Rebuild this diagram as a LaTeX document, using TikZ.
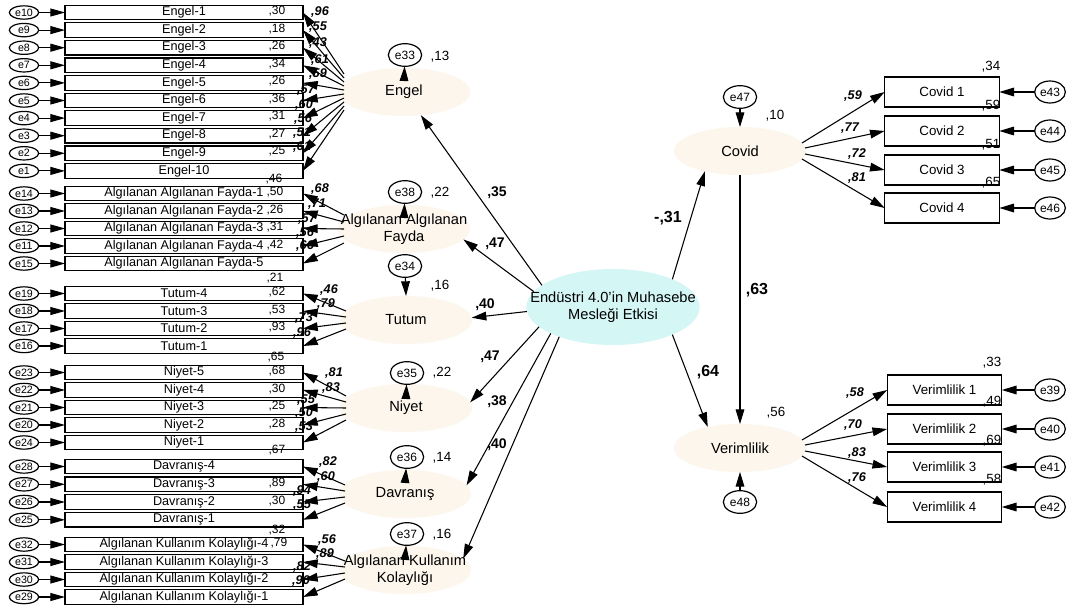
\documentclass[tikz,border=0pt]{standalone}
\usepackage{fontspec}
\setmainfont{Liberation Sans}
\usetikzlibrary{arrows.meta,shapes.geometric,calc}
\definecolor{latfill}{HTML}{FCF6EC}
\definecolor{hubfill}{HTML}{D4F6F4}

\begin{document}
\begin{tikzpicture}[x=0.75pt,y=-0.75pt,
  every node/.style={inner sep=0pt, outer sep=0pt},
  lat/.style={ellipse, fill=latfill, minimum width=99pt, minimum height=36pt},
  hub/.style={ellipse, fill=hubfill, minimum width=130pt, minimum height=57pt},
  lattext/.style={align=center, font=\fontsize{11}{12.5}\selectfont},
  ind/.style={draw, line width=0.9pt, minimum width=178.5pt, minimum height=10.9pt, font=\fontsize{9.5}{10}\selectfont},
  rind/.style={draw, line width=0.9pt, minimum width=86pt, minimum height=22.5pt, font=\fontsize{10}{11}\selectfont},
  errs/.style={ellipse, draw, line width=0.9pt, minimum width=22pt, minimum height=10pt, font=\fontsize{8}{9}\selectfont},
  errl/.style={ellipse, draw, line width=0.9pt, minimum width=25pt, minimum height=17pt, font=\fontsize{9}{10}\selectfont},
  arr/.style={line width=0.8pt, -{Triangle[length=11pt,width=6.5pt]}},
  arrs/.style={line width=0.8pt, -{Triangle[length=11pt,width=6pt]}},
  rsq/.style={font=\fontsize{9}{10}\selectfont},
  rsqb/.style={font=\fontsize{10}{11}\selectfont},
  ld/.style={font=\bfseries\itshape\fontsize{9.5}{10}\selectfont},
  pth/.style={font=\bfseries\fontsize{10.5}{11}\selectfont},
  pthbig/.style={font=\bfseries\fontsize{12}{13}\selectfont},
]
\fill[white] (0,0) rectangle (1067,610);
\useasboundingbox (0,0) rectangle (1067,610);

% ---------- latent variables ----------
\node[lat] (Engel) at (404,92) {};
\node[lattext] at (Engel) {Engel};
\node[lat] (Fayda) at (404,229) {};
\node[lattext] at (Fayda) {Algılanan Algılanan\\Fayda};
\node[lat] (Tutum) at (406,320) {};
\node[lattext] at (Tutum) {Tutum};
\node[lat] (Niyet) at (406,408) {};
\node[lattext] at (Niyet) {Niyet};
\node[lat] (Davranis) at (405,494) {};
\node[lattext] at (Davranis) {Davranış};
\node[lat] (Kolay) at (405,570) {};
\node[lattext] at (Kolay) {Algılanan Kullanım\\Kolaylığı};
\node[hub] (Hub) at (613,307) {};
\node[lattext] at (Hub) {Endüstri 4.0’in Muhasebe\\Mesleği Etkisi};
\node[lat] (Covid) at (740,151) {};
\node[lattext] at (Covid) {Covid};
\node[lat] (Verim) at (740,448) {};
\node[lattext] at (Verim) {Verimlilik};

% ---------- latent disturbances ----------
\node[errl] (e33) at (405,55) {e33};
\node[errl] (e38) at (405,192) {e38};
\node[errl] (e34) at (405,266) {e34};
\node[errl] (e35) at (407,373) {e35};
\node[errl] (e36) at (407,457) {e36};
\node[errl] (e37) at (407,534) {e37};
\node[errl] (e47) at (740,97) {e47};
\node[errl] (e48) at (740,502) {e48};
\draw[arr] ($(Engel.north)+(0,13)$) -- (e33);
\draw[arr] ($(Fayda.north)+(0,13)$) -- (e38);
\draw[arr] (e34) -- (Tutum.north);
\draw[arr] ($(Niyet.north)+(0,13)$) -- (e35);
\draw[arr] ($(Davranis.north)+(0,13)$) -- (e36);
\draw[arr] ($(Kolay.north)+(0,13)$) -- (e37);
\draw[arr] (e47) -- (Covid.north);
\draw[arr] (e48) -- (Verim.south);
\node[rsqb] at (440,57) {,13};
\node[rsqb] at (440,193) {,22};
\node[rsqb] at (440,286) {,16};
\node[rsqb] at (442,373) {,22};
\node[rsqb] at (442,458) {,14};
\node[rsqb] at (442,535) {,16};
\node[rsqb] at (775,116) {,10};
\node[rsqb] at (776,413) {,56};

% ---------- Engel indicators ----------
\foreach \n/\y/\e in {1/12.5/e10,2/30.1/e9,3/47.7/e8,4/65.3/e7,5/82.9/e6,6/100.5/e5,7/118.1/e4,8/135.7/e3,9/153.3/e2,10/170.9/e1}{
  \node[ind] (E\n) at (184,\y) {Engel-\n};
  \node[errs] (eE\n) at (24,\y) {\e};
  \draw[arrs] (eE\n) -- (E\n);
}
\foreach \n/\d in {1/-18,2/-14,3/-10,4/-6,5/-2,6/2,7/6,8/10,9/14,10/18}
  \draw[arr] ($(Engel.west)+(6,\d)$) -- (E\n.east);

% ---------- Fayda indicators ----------
\foreach \n/\y/\e in {1/193.5/e14,2/211/e13,3/228.5/e12,4/246/e11,5/263.5/e15}{
  \node[ind] (F\n) at (184,\y) {Algılanan Algılanan Fayda-\n};
  \node[errs] (eF\n) at (24,\y) {\e};
  \draw[arrs] (eF\n) -- (F\n);
}
\foreach \n/\d in {1/-14,2/-7,3/0,4/7,5/14}
  \draw[arr] ($(Fayda.west)+(6,\d)$) -- (F\n.east);

% ---------- Tutum indicators ----------
\foreach \n/\y/\k/\e in {1/293.5/4/e19,2/311/3/e18,3/328.5/2/e17,4/346/1/e16}{
  \node[ind] (T\n) at (184,\y) {Tutum-\k};
  \node[errs] (eT\n) at (24,\y) {\e};
  \draw[arrs] (eT\n) -- (T\n);
}
\foreach \n/\d in {1/-9,2/-3,3/3,4/9}
  \draw[arr] ($(Tutum.west)+(6,\d)$) -- (T\n.east);

% ---------- Niyet indicators ----------
\foreach \n/\y/\k/\e in {1/372.5/5/e23,2/390/4/e22,3/407.5/3/e21,4/425/2/e20,5/442.5/1/e24}{
  \node[ind] (N\n) at (184,\y) {Niyet-\k};
  \node[errs] (eN\n) at (24,\y) {\e};
  \draw[arrs] (eN\n) -- (N\n);
}
\foreach \n/\d in {1/-12,2/-6,3/0,4/6,5/12}
  \draw[arr] ($(Niyet.west)+(6,\d)$) -- (N\n.east);

% ---------- Davranis indicators ----------
\foreach \n/\y/\k/\e in {1/466.5/4/e28,2/484.3/3/e27,3/502/2/e26,4/519.8/1/e25}{
  \node[ind] (D\n) at (184,\y) {Davranış-\k};
  \node[errs] (eD\n) at (24,\y) {\e};
  \draw[arrs] (eD\n) -- (D\n);
}
\foreach \n/\d in {1/-9,2/-3,3/3,4/9}
  \draw[arr] ($(Davranis.west)+(6,\d)$) -- (D\n.east);

% ---------- Kolaylik indicators ----------
\foreach \n/\y/\k/\e in {1/544.5/4/e32,2/562/3/e31,3/579.5/2/e30,4/597/1/e29}{
  \node[ind] (K\n) at (184,\y) {Algılanan Kullanım Kolaylığı-\k};
  \node[errs] (eK\n) at (24,\y) {\e};
  \draw[arrs] (eK\n) -- (K\n);
}
\foreach \n/\d in {1/-9,2/-3,3/3,4/9}
  \draw[arr] ($(Kolay.west)+(6,\d)$) -- (K\n.east);

% ---------- squared multiple correlations, left ----------
\node[rsq] at (277,11.5) {,30};
\node[rsq] at (277,29) {,18};
\node[rsq] at (277,46.5) {,26};
\node[rsq] at (277,64) {,34};
\node[rsq] at (277,81.5) {,26};
\node[rsq] at (277,99) {,36};
\node[rsq] at (277,116.5) {,31};
\node[rsq] at (277,134) {,27};
\node[rsq] at (277,151.5) {,25};
\node[rsq] at (274,179) {,46};
\node[rsq] at (275,192.5) {,50};
\node[rsq] at (275,210) {,26};
\node[rsq] at (275,227.5) {,31};
\node[rsq] at (275,245) {,42};
\node[rsq] at (275,278) {,21};
\node[rsq] at (277,292.5) {,62};
\node[rsq] at (277,310) {,53};
\node[rsq] at (277,327.5) {,93};
\node[rsq] at (276,357) {,65};
\node[rsq] at (277,371.5) {,68};
\node[rsq] at (277,389) {,30};
\node[rsq] at (277,406.5) {,25};
\node[rsq] at (277,424) {,28};
\node[rsq] at (277,450) {,67};
\node[rsq] at (277,483.5) {,89};
\node[rsq] at (277,501) {,30};
\node[rsq] at (277,530) {,32};
\node[rsq] at (279,543) {,79};

% ---------- factor loadings, left ----------
\node[ld] at (320,12) {,96};
\node[ld] at (318,27) {,55};
\node[ld] at (318,43) {,43};
\node[ld] at (320,60) {,61};
\node[ld] at (318,74) {,59};
\node[ld] at (306,90) {,57};
\node[ld] at (304,105) {,60};
\node[ld] at (303,119) {,56};
\node[ld] at (302,133) {,51};
\node[ld] at (302,147) {,61};
\node[ld] at (320,189) {,68};
\node[ld] at (317,204) {,71};
\node[ld] at (307,219) {,57};
\node[ld] at (305,233) {,56};
\node[ld] at (305,246) {,66};
\node[ld] at (329,290) {,46};
\node[ld] at (326,304) {,79};
\node[ld] at (304,318) {,73};
\node[ld] at (302,333) {,96};
\node[ld] at (334,373) {,81};
\node[ld] at (331,388) {,83};
\node[ld] at (306,400) {,55};
\node[ld] at (304,413) {,50};
\node[ld] at (304,427) {,53};
\node[ld] at (328,462) {,82};
\node[ld] at (326,477) {,60};
\node[ld] at (302,491) {,94};
\node[ld] at (302,505) {,55};
\node[ld] at (327,540) {,56};
\node[ld] at (325,554) {,89};
\node[ld] at (302,567) {,82};
\node[ld] at (301,581) {,90};

% ---------- structural paths ----------
\draw[arr] (Hub.163) -- (Engel.306);
\draw[arr] (Hub.169) -- (Fayda.350);
\draw[arr] (Hub.183) -- (Tutum.2);
\draw[arr] (Hub.195) -- (Niyet.5);
\draw[arr] (Hub.203) -- (Davranis.8);
\draw[arr] (Hub.209) -- (Kolay.11);
\draw[arr] (Hub.25) -- (Covid.210);
\draw[arr] (Hub.335) -- (Verim.147);
\draw[arr] (Covid.south) -- (Verim.north);
\node[pth] at (497,193) {,35};
\node[pth] at (495,244) {,47};
\node[pth] at (485,305) {,40};
\node[pth] at (490,357) {,47};
\node[pth] at (497,402) {,38};
\node[pth] at (497,445) {,40};
\node[pthbig] at (668,218) {-,31};
\node[pthbig] at (708,372) {,64};
\node[pthbig] at (757,290) {,63};

% ---------- Covid indicators ----------
\foreach \n/\y/\e/\d/\s in {1/92/e43/-8/-4,2/131/e44/-3/-1,3/170/e45/3/-1,4/208/e46/8/-4}{
  \node[rind] (C\n) at (942,\y) {Covid \n};
  \node[errl, minimum width=23pt, minimum height=16.5pt] (eC\n) at (1050,\y) {\e};
  \draw[arr] (eC\n) -- (C\n.east);
  \draw[arr] ($(Covid.east)+(\s,\d)$) -- (C\n.west);
}
\node[rsqb] at (991,67) {,34};
\node[rsqb] at (991,106) {,59};
\node[rsqb] at (991,145) {,51};
\node[rsqb] at (991,183) {,65};
\node[ld] at (853,96) {,59};
\node[ld] at (850,128) {,77};
\node[ld] at (857,154) {,72};
\node[ld] at (857,178) {,81};

% ---------- Verimlilik indicators ----------
\foreach \n/\y/\e/\d/\s in {1/390/e39/-8/-4,2/429/e40/-3/-1,3/467/e41/3/-1,4/507/e42/8/-4}{
  \node[rind] (V\n) at (944.5,\y) {Verimlilik \n};
  \node[errl, minimum width=23pt, minimum height=16.5pt] (eV\n) at (1050,\y) {\e};
  \draw[arr] (eV\n) -- (V\n.east);
  \draw[arr] ($(Verim.east)+(\s,\d)$) -- (V\n.west);
}
\node[rsqb] at (992,363) {,33};
\node[rsqb] at (992,402) {,49};
\node[rsqb] at (992,441) {,69};
\node[rsqb] at (992,480) {,58};
\node[ld] at (855,393) {,58};
\node[ld] at (853,425) {,70};
\node[ld] at (857,453) {,83};
\node[ld] at (857,478) {,76};
\end{tikzpicture}
\end{document}
